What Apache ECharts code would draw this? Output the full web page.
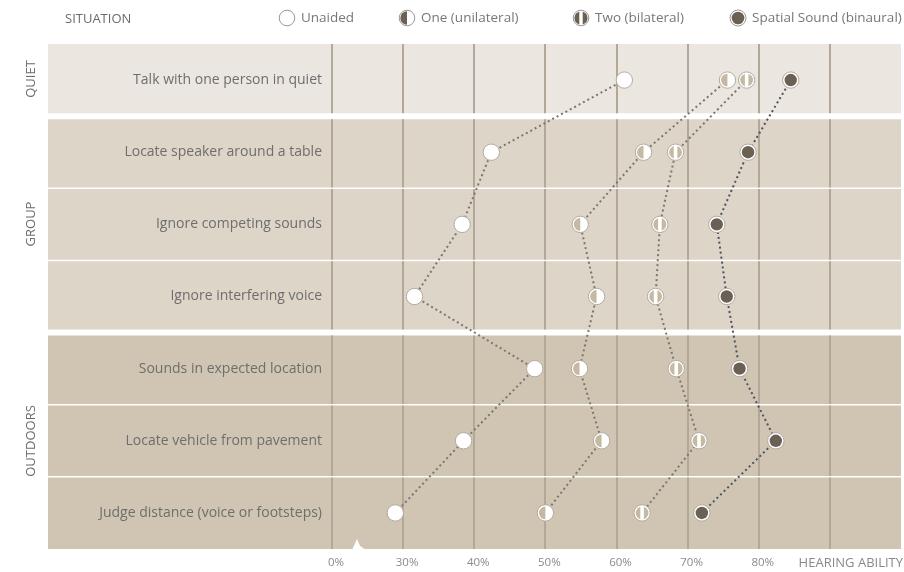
<!DOCTYPE html>
<html>
<head>
<meta charset="utf-8">
<script src="https://cdn.jsdelivr.net/npm/echarts@6/dist/echarts.min.js"></script>
<style>
html,body{margin:0;padding:0;background:#fff;}
#chart{width:904px;height:572px;}
</style>
</head>
<body>
<div id="chart"></div>
<script>
// ---- data ----
const categories = [
  'Talk with one person in quiet',
  'Locate speaker around a table',
  'Ignore competing sounds',
  'Ignore interfering voice',
  'Sounds in expected location',
  'Locate vehicle from pavement',
  'Judge distance (voice or footsteps)'
];
const groups = ['QUIET', 'GROUP', 'GROUP', 'GROUP', 'OUTDOORS', 'OUTDOORS', 'OUTDOORS'];
const seriesNames = ['Unaided', 'One (unilateral)', 'Two (bilateral)', 'Spatial Sound (binaural)'];
const unaided = [61.1, 42.4, 38.3, 31.6, 48.5, 38.5, 28.9];
const oneAid  = [75.6, 63.8, 54.9, 57.2, 54.8, 57.9, 50.0];
const twoAid  = [78.3, 68.3, 66.1, 65.5, 68.4, 71.6, 63.6];
const spatial = [84.5, 78.5, 74.1, 75.5, 77.3, 82.4, 72.0];
// axis: the 0% tick sits where 20 would be (axis break between 0% and 30%)
const tickValues = [20, 30, 40, 50, 60, 70, 80, 90];
const tickLabels = ['0%', '30%', '40%', '50%', '60%', '70%', '80%', ''];

// ---- style ----
const FONT = '"Open Sans"';
const bandColors = { QUIET: '#ebe7e0', GROUP: '#ddd5c8', OUTDOORS: '#d0c5b2' };
const gridColor = '#b3a898';
const tan = '#c6b9a1';
const dark = '#6b6054';
const ring = '#b2aaa1';

const chart = echarts.init(document.getElementById('chart'), null, { renderer: 'canvas' });

function svgIcon(kind) {
  let inner = '';
  if (kind === 0) {
    inner = '<circle cx="9" cy="9" r="7.8" fill="#fff" stroke="#9a9a9a" stroke-width="1"/>';
  } else if (kind === 1) {
    inner = '<circle cx="9" cy="9" r="7.8" fill="#fff" stroke="#9a9a9a" stroke-width="1"/>' +
      '<path d="M9 2.3 A6.7 6.7 0 0 0 9 15.7 Z" fill="' + dark + '"/>';
  } else if (kind === 2) {
    inner = '<circle cx="9" cy="9" r="7.8" fill="#fff" stroke="#9a9a9a" stroke-width="1"/>' +
      '<circle cx="9" cy="9" r="6.6" fill="' + dark + '"/>' +
      '<rect x="7.3" y="2" width="3.4" height="14" fill="#fff"/>';
  } else {
    inner = '<circle cx="9" cy="9" r="8" fill="#fff" stroke="#9a9a9a" stroke-width="1"/>' +
      '<circle cx="9" cy="9" r="6.3" fill="' + dark + '"/>';
  }
  const svg = '<svg xmlns="http://www.w3.org/2000/svg" width="18" height="18" viewBox="0 0 18 18">' + inner + '</svg>';
  return 'image://data:image/svg+xml;charset=utf-8,' + encodeURIComponent(svg);
}

function markerRender(kind) {
  return function (params, api) {
    const p = api.coord([api.value(0), api.value(1)]);
    const cx = p[0], cy = p[1];
    const children = [
      { type: 'circle', shape: { cx, cy, r: 8.2 }, style: { fill: '#fff', stroke: ring, lineWidth: 1 } }
    ];
    if (kind === 1) {
      children.push({ type: 'sector', shape: { cx, cy, r: 6.4, r0: 0, startAngle: Math.PI / 2, endAngle: Math.PI * 1.5, clockwise: true }, style: { fill: tan } });
    } else if (kind === 2) {
      children.push({ type: 'circle', shape: { cx, cy, r: 6.4 }, style: { fill: tan } });
      children.push({ type: 'rect', shape: { x: cx - 1.8, y: cy - 6.8, width: 3.6, height: 13.6 }, style: { fill: '#fff' } });
    } else if (kind === 3) {
      children.push({ type: 'circle', shape: { cx, cy, r: 6.2 }, style: { fill: dark } });
    }
    return { type: 'group', children };
  };
}

const dataSets = [unaided, oneAid, twoAid, spatial];
const lineColors = ['#7a7670', '#7a7670', '#7a7670', '#4d5262'];

const series = [];
// background bands + vertical grid lines
series.push({
  type: 'custom',
  name: 'bands',
  silent: true,
  clip: false,
  z: 1,
  encode: { x: 0, y: 1 },
  data: categories.map((c, i) => [tickValues[0], i]),
  renderItem: function (params, api) {
    const i = api.value(1);
    const cs = params.coordSys;
    const yc = api.coord([tickValues[0], i])[1];
    const h = api.size([0, 1])[1];
    const n = categories.length;
    const topTrim = i === 0 ? 0 : (groups[i - 1] !== groups[i] ? 3 : 0.75);
    const botTrim = i === n - 1 ? 0 : (groups[i + 1] !== groups[i] ? 3 : 0.75);
    const y0 = yc - h / 2 + topTrim;
    const y1 = yc + h / 2 - botTrim;
    const children = [{
      type: 'rect',
      shape: { x: cs.x - 284, y: y0, width: cs.width + 284, height: y1 - y0 },
      style: { fill: bandColors[groups[i]] }
    }];
    tickValues.forEach(v => {
      const x = Math.round(api.coord([v, i])[0]);
      children.push({ type: 'line', shape: { x1: x, y1: y0, x2: x, y2: y1 }, style: { stroke: gridColor, lineWidth: 2 } });
    });
    return { type: 'group', children };
  }
});

dataSets.forEach((d, k) => {
  series.push({
    type: 'line',
    name: seriesNames[k],
    data: d.map((v, i) => [v, i]),
    symbol: 'none',
    z: 3,
    silent: true,
    lineStyle: { color: lineColors[k], width: 2, type: [2, 3] }
  });
});
dataSets.forEach((d, k) => {
  series.push({
    type: 'custom',
    name: seriesNames[k],
    z: 5,
    clip: false,
    encode: { x: 0, y: 1 },
    data: d.map((v, i) => [v, i]),
    renderItem: markerRender(k)
  });
});

const legendLefts = [278, 398, 572, 729];
const legends = seriesNames.map((nm, k) => ({
  left: legendLefts[k],
  top: 9,
  padding: 0,
  itemWidth: 18,
  itemHeight: 18,
  itemGap: 0,
  selectedMode: false,
  textStyle: { fontFamily: FONT, fontSize: 13.5, color: '#777' },
  data: [{ name: nm, icon: svgIcon(k) }]
}));

const option = {
  animation: false,
  backgroundColor: '#fff',
  legend: legends,
  grid: { left: 332, right: 0, top: 44, bottom: 23, containLabel: false },
  xAxis: {
    type: 'value',
    min: 20,
    max: 100,
    interval: 10,
    axisLine: { show: false },
    axisTick: { show: false },
    splitLine: { show: false },
    axisLabel: {
      margin: 8,
      fontFamily: FONT,
      fontSize: 11.5,
      color: '#8a8a8a',
      padding: [0, 0, 0, 8],
      formatter: function (v) {
        const idx = tickValues.indexOf(v);
        return idx >= 0 ? tickLabels[idx] : '';
      }
    }
  },
  yAxis: {
    type: 'category',
    inverse: true,
    data: categories,
    boundaryGap: true,
    axisLine: { show: false },
    axisTick: { show: false },
    splitLine: { show: false },
    z: 4,
    axisLabel: { margin: 10, fontFamily: FONT, fontSize: 14, color: '#6e6e6e' }
  },
  graphic: [
    { type: 'text', left: 65, top: 13, style: { text: 'SITUATION', font: '13px ' + FONT, fill: '#6b6b6b' } },
    { type: 'text', right: 1, top: 557, style: { text: 'HEARING ABILITY', font: '13px ' + FONT, fill: '#8a8a8a' } },
    { type: 'text', x: 31, y: 79, rotation: Math.PI / 2, style: { text: 'QUIET', font: '13px ' + FONT, fill: '#6b6b6b', align: 'center', verticalAlign: 'middle' } },
    { type: 'text', x: 31, y: 224, rotation: Math.PI / 2, style: { text: 'GROUP', font: '13px ' + FONT, fill: '#6b6b6b', align: 'center', verticalAlign: 'middle' } },
    { type: 'text', x: 31, y: 441, rotation: Math.PI / 2, style: { text: 'OUTDOORS', font: '13px ' + FONT, fill: '#6b6b6b', align: 'center', verticalAlign: 'middle' } },
    { type: 'polygon', z: 10, shape: { points: [[352, 550], [357, 539], [360, 546], [366, 550]] }, style: { fill: '#fff' } }
  ],
  series: series
};
chart.setOption(option);
</script>
</body>
</html>
